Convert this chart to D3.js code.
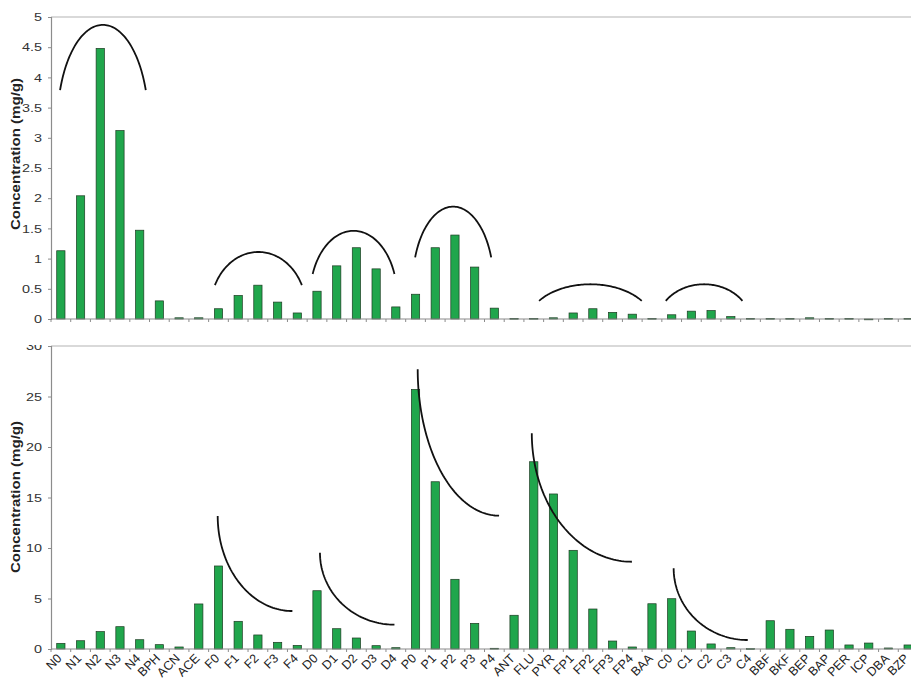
<!DOCTYPE html>
<html>
<head>
<meta charset="utf-8">
<script src="https://cdn.jsdelivr.net/npm/d3@7"></script>
<style>
  html, body { margin: 0; padding: 0; background: #fff; }
  svg { display: block; font-family: "Liberation Sans", Arial, sans-serif; }
</style>
</head>
<body>
<svg id="chart" width="911" height="679"></svg>
<script>
// Compound names (parent PAH and alkylated homologues)
const compounds = ["N0","N1","N2","N3","N4","BPH","ACN","ACE","F0","F1","F2","F3","F4",
  "D0","D1","D2","D3","D4","P0","P1","P2","P3","P4","ANT","FLU","PYR","FP1","FP2","FP3","FP4",
  "BAA","C0","C1","C2","C3","C4","BBF","BKF","BEP","BAP","PER","ICP","DBA","BZP"];

// Upper panel concentrations (mg/g)
const upperValues = [1.13,2.04,4.48,3.12,1.47,0.30,0.02,0.02,0.17,0.39,0.56,0.28,0.10,
  0.46,0.88,1.18,0.83,0.20,0.41,1.18,1.39,0.86,0.18,0.01,0.01,0.02,0.10,0.17,0.11,0.08,
  0.01,0.07,0.13,0.14,0.04,0.01,0.01,0.01,0.02,0.01,0.01,0.0,0.01,0.01];

// Lower panel concentrations (mg/g)
const lowerValues = [0.56,0.82,1.72,2.21,0.92,0.43,0.20,4.46,8.22,2.74,1.39,0.66,0.36,
  5.77,2.01,1.09,0.33,0.13,25.7,16.56,6.9,2.54,0.07,3.34,18.54,15.35,9.77,3.96,0.79,0.20,
  4.48,4.98,1.78,0.50,0.13,0.04,2.80,1.95,1.25,1.88,0.40,0.59,0.10,0.40];

// Axis ticks
const upperTicks = [0,0.5,1,1.5,2,2.5,3,3.5,4,4.5,5];
const lowerTicks = [0,5,10,15,20,25,30];

// Hand-drawn homologue trend arches on the upper panel (slot position, concentration)
const upperArches = [
  {from: 0.46,  to: 4.81,  end: 3.79,  peak: 4.87,  bend: 20},
  {from: 8.32,  to: 12.73, end: 0.56,  peak: 1.11,  bend: 25},
  {from: 13.28, to: 17.43, end: 0.745, peak: 1.46,  bend: 20},
  {from: 18.48, to: 22.34, end: 1.02,  peak: 1.86,  bend: 20},
  {from: 24.77, to: 29.98, end: 0.30,  peak: 0.575, bend: 35},
  {from: 31.2,  to: 35.09, end: 0.30,  peak: 0.575, bend: 35}
];

// Decay curves on the lower panel (slot position, concentration)
const lowerDecays = [
  {from: 8.46,  to: 12.25, start: 13.17, end: 3.76},
  {from: 13.65, to: 17.43, start: 9.53,  end: 2.41},
  {from: 18.61, to: 22.74, start: 27.7,  end: 13.2},
  {from: 24.4,  to: 29.48, start: 21.36, end: 8.64},
  {from: 31.6,  to: 35.36, start: 7.99,  end: 0.89}
];

const svg = d3.select("#chart");
const left = 51, right = 918;
const n = compounds.length;

const x = d3.scaleBand().domain(compounds).range([left, right])
  .paddingInner(0.58).paddingOuter(0.29);
const slot = d3.scaleLinear().domain([0, n]).range([left, right]);

const barFill = "#20a64c", barStroke = "#1c3b22";
const axisColor = "#8c8c8c";
const line = d3.line().curve(d3.curveLinear);

function widenText(sel, k) {
  sel.each(function() {
    const w = this.getComputedTextLength();
    d3.select(this).attr("textLength", w * k).attr("lengthAdjust", "spacingAndGlyphs");
  });
}

function panel(g, values, y, ticks, fmt, titleY) {
  const [y0, yTopPx] = y.range();

  // frame: top border
  g.append("line").attr("x1", left).attr("x2", right).attr("y1", yTopPx).attr("y2", yTopPx)
    .attr("stroke", "#b4b4b4").attr("stroke-width", 1.2);

  // bars
  g.append("g").selectAll("rect").data(values).join("rect")
    .attr("x", (d, i) => x(compounds[i]))
    .attr("width", x.bandwidth())
    .attr("y", d => y(d))
    .attr("height", d => Math.max(0.8, y0 - y(d)))
    .attr("fill", barFill)
    .attr("stroke", barStroke)
    .attr("stroke-width", 0.7);

  // y axis
  const yAxis = g.append("g").attr("transform", `translate(${left},0)`)
    .call(d3.axisLeft(y).tickValues(ticks).tickFormat(fmt).tickSize(3).tickPadding(6));
  yAxis.select(".domain").attr("stroke", axisColor).attr("stroke-width", 1.2);
  yAxis.selectAll(".tick line").attr("stroke", axisColor);
  yAxis.selectAll(".tick text").attr("fill", "#333").attr("font-size", 11.5)
    .attr("font-family", "Liberation Sans, Arial, sans-serif")
    .call(widenText, 1.25);

  // x axis baseline with ticks at category boundaries
  g.append("line").attr("x1", left).attr("x2", right).attr("y1", y0).attr("y2", y0)
    .attr("stroke", axisColor).attr("stroke-width", 1.2);
  g.append("g").selectAll("line").data(d3.range(n + 1)).join("line")
    .attr("x1", i => slot(i)).attr("x2", i => slot(i))
    .attr("y1", y0).attr("y2", y0 + 3)
    .attr("stroke", axisColor);

  // y title
  g.append("text")
    .attr("transform", `translate(20,${titleY}) rotate(-90)`)
    .attr("text-anchor", "middle")
    .attr("font-size", 12)
    .attr("font-weight", "bold")
    .attr("fill", "#222")
    .attr("textLength", 152)
    .attr("lengthAdjust", "spacingAndGlyphs")
    .text("Concentration (mg/g)");
}

// ---- lower panel ----
const yLow = d3.scaleLinear().domain([0, 30]).range([649, 346]);
const gLow = svg.append("g");
panel(gLow, lowerValues, yLow, lowerTicks, d3.format("d"), 497);

// category labels under the lower panel
gLow.append("g").selectAll("text").data(compounds).join("text")
  .attr("transform", d => `translate(${x(d) + x.bandwidth() / 2 - 1.5},${656}) rotate(-45)`)
  .attr("text-anchor", "end")
  .attr("dy", "0.35em")
  .attr("font-size", 12.5)
  .attr("fill", "#222")
  .text(d => d);

// decay curves (quarter ellipses)
gLow.append("g").selectAll("path").data(lowerDecays).join("path")
  .attr("d", c => {
    const x0 = slot(c.from), x1 = slot(c.to), y0 = yLow(c.start), y1 = yLow(c.end);
    const rx = x1 - x0, ry = y1 - y0;
    return line(d3.range(0, 61).map(k => {
      const t = (k / 60) * Math.PI / 2;
      return [x1 - rx * Math.cos(t), y0 + ry * Math.sin(t)];
    }));
  })
  .attr("fill", "none").attr("stroke", "#111").attr("stroke-width", 1.8);

// ---- upper panel (drawn over the lower one) ----
const yUp = d3.scaleLinear().domain([0, 5]).range([319, 17]);
const gUp = svg.append("g");
gUp.append("rect").attr("x", 0).attr("y", 0).attr("width", 911).attr("height", 345).attr("fill", "#fff");
panel(gUp, upperValues, yUp, upperTicks, d => d3.format("~g")(d), 154);

// arches (elliptic arcs)
gUp.append("g").selectAll("path").data(upperArches).join("path")
  .attr("d", a => {
    const x0 = slot(a.from), x1 = slot(a.to), yE = yUp(a.end), yP = yUp(a.peak);
    const phi = a.bend * Math.PI / 180;
    const w = (x1 - x0) / 2, h = yE - yP;
    const rx = w / Math.cos(phi), ry = h / (1 - Math.sin(phi));
    const cx = (x0 + x1) / 2, cy = yP + ry;
    return line(d3.range(0, 81).map(k => {
      const t = Math.PI - phi - (k / 80) * (Math.PI - 2 * phi);
      return [cx + rx * Math.cos(t), cy - ry * Math.sin(t)];
    }));
  })
  .attr("fill", "none").attr("stroke", "#111").attr("stroke-width", 1.8);
</script>
</body>
</html>
